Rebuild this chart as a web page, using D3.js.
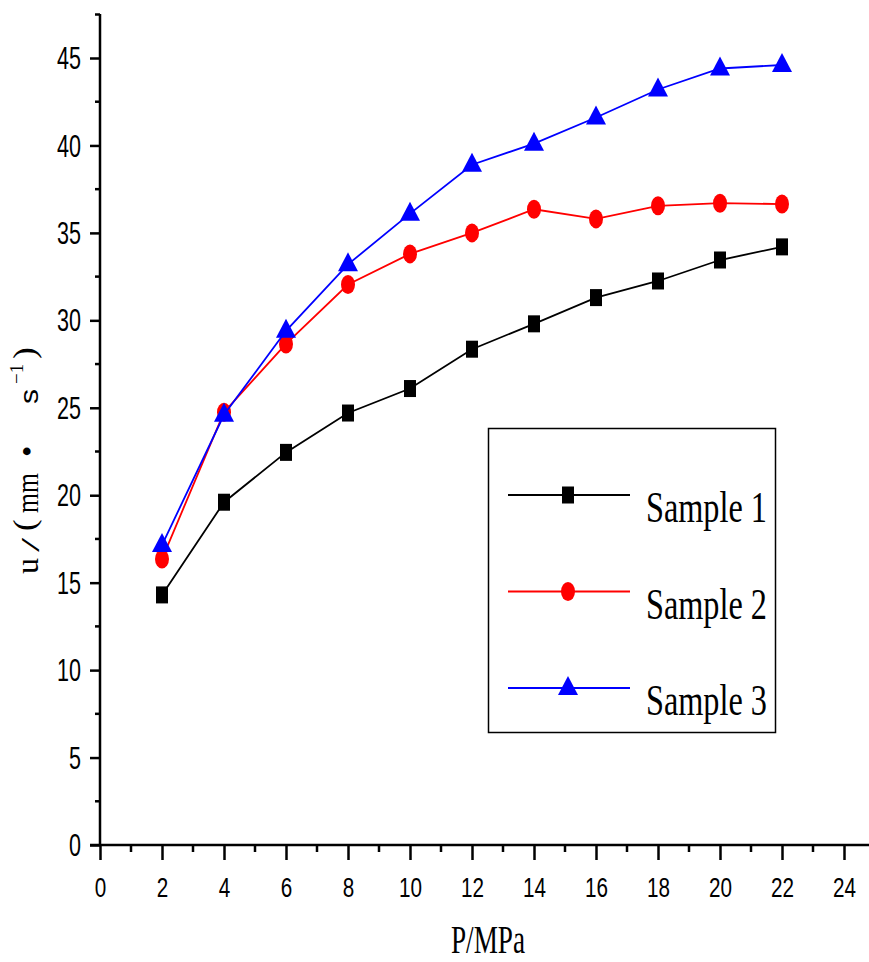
<!DOCTYPE html>
<html>
<head>
<meta charset="utf-8">
<script src="https://cdn.jsdelivr.net/npm/d3@7"></script>
<style>
  body { margin: 0; background: #fff; }
  svg { display: block; }
</style>
</head>
<body>
<svg id="chart" width="869" height="962"></svg>
<script>
// pressure values (MPa)
const pressure = [2, 4, 6, 8, 10, 12, 14, 16, 18, 20, 22];

// burning rate readings per sample
const sample1 = [14.3, 19.6, 22.45, 24.7, 26.1, 28.35, 29.8, 31.3, 32.25, 33.45, 34.2];
const sample2 = [16.35, 24.75, 28.65, 32.05, 33.8, 35.0, 36.35, 35.8, 36.55, 36.7, 36.65];
const sample3 = [17.15, 24.6, 29.4, 33.2, 36.1, 38.9, 40.1, 41.6, 43.2, 44.4, 44.6];

const seriesNames = ["Sample 1", "Sample 2", "Sample 3"];
const seriesColors = ["#000000", "#ff0000", "#0000ff"];
const seriesShapes = ["square", "circle", "triangle"];

const xTicks = [0, 2, 4, 6, 8, 10, 12, 14, 16, 18, 20, 22, 24];
const yTicks = [0, 5, 10, 15, 20, 25, 30, 35, 40, 45];

let svg = d3.select("#chart");

let canvas = {"left": 100, "bottom": 845, "xEnd": 844, "yTop": 58};

let xScale = d3.scaleLinear().domain([0, 24]).range([canvas.left, canvas.xEnd]);
let yScale = d3.scaleLinear().domain([0, 45]).range([canvas.bottom, canvas.yTop]);

const tickFont = "'Liberation Sans', Arial, sans-serif";
const serifFont = "'Liberation Serif', 'DejaVu Serif', serif";

// axes lines
svg.append("line")
  .attr("x1", canvas.left).attr("x2", canvas.left)
  .attr("y1", 14).attr("y2", canvas.bottom)
  .attr("stroke", "black").attr("stroke-width", 2.5);
svg.append("line")
  .attr("x1", canvas.left - 10).attr("x2", 869)
  .attr("y1", canvas.bottom).attr("y2", canvas.bottom)
  .attr("stroke", "black").attr("stroke-width", 2.5);
// top cap on y axis
svg.append("line")
  .attr("x1", canvas.left - 5).attr("x2", canvas.left)
  .attr("y1", 14.5).attr("y2", 14.5)
  .attr("stroke", "black").attr("stroke-width", 2.5);

// y axis
let yAxis = d3.axisLeft(yScale).tickValues(yTicks).tickSize(10).tickPadding(9);
let gy = svg.append("g")
  .attr("transform", `translate(${canvas.left}, 0)`)
  .call(yAxis);
gy.select(".domain").remove();
gy.selectAll(".tick line").attr("stroke-width", 2.5);
gy.selectAll(".tick text")
  .attr("font-family", tickFont)
  .attr("font-size", 32)
  .attr("fill", "black")
  .attr("dy", "0.33em")
  .attr("textLength", d => String(d).length * 12)
  .attr("lengthAdjust", "spacingAndGlyphs");

let yMinor = d3.range(2.5, 46, 5);
svg.append("g").selectAll("line")
  .data(yMinor)
  .join("line")
  .attr("x1", canvas.left - 5).attr("x2", canvas.left)
  .attr("y1", d => yScale(d)).attr("y2", d => yScale(d))
  .attr("stroke", "black").attr("stroke-width", 2.5);

// x axis
let xAxis = d3.axisBottom(xScale).tickValues(xTicks).tickSize(15).tickPadding(17);
let gx = svg.append("g")
  .attr("transform", `translate(0, ${canvas.bottom})`)
  .call(xAxis);
gx.select(".domain").remove();
gx.selectAll(".tick line").attr("stroke-width", 2.5);
gx.selectAll(".tick text")
  .attr("font-family", tickFont)
  .attr("font-size", 28)
  .attr("fill", "black")
  .attr("textLength", d => String(d).length * 11.5)
  .attr("lengthAdjust", "spacingAndGlyphs");

let xMinor = d3.range(1, 24, 2);
svg.append("g").selectAll("line")
  .data(xMinor)
  .join("line")
  .attr("x1", d => xScale(d)).attr("x2", d => xScale(d))
  .attr("y1", canvas.bottom).attr("y2", canvas.bottom + 7)
  .attr("stroke", "black").attr("stroke-width", 2.5);

// x axis title
svg.append("text")
  .attr("x", 451).attr("y", 953)
  .attr("font-family", serifFont)
  .attr("font-size", 40)
  .attr("textLength", 74)
  .attr("lengthAdjust", "spacingAndGlyphs")
  .text("P/MPa");

// y axis title, set glyph by glyph (rotated, wide spacing like the original)
const yTitleParts = [
  {text: "u",  y: 574, bx: 38, size: 32, sx: 1,   sy: 1,    font: serifFont},
  {text: "/",  y: 552, bx: 39, size: 32, sx: 1.6, sy: 0.8,  font: serifFont},
  {text: "(",  y: 531, bx: 35, size: 32, sx: 1.1, sy: 1,    font: serifFont},
  {text: "m",  y: 513, bx: 38, size: 32, sx: 0.8, sy: 1,    font: serifFont},
  {text: "m",  y: 493, bx: 38, size: 32, sx: 0.8, sy: 1,    font: serifFont},
  {text: "•",  y: 457, bx: 38, size: 32, sx: 1,   sy: 1,    font: serifFont},
  {text: "s",  y: 404, bx: 38, size: 25, sx: 1.2, sy: 1,    font: tickFont},
  {text: "−1", y: 384, bx: 23, size: 19, sx: 1,   sy: 1,    font: serifFont},
  {text: ")",  y: 359, bx: 35, size: 32, sx: 1.1, sy: 1,    font: serifFont}
];
let yTitle = svg.append("g");
yTitleParts.forEach(p => {
  yTitle.append("text")
    .attr("transform", `translate(${p.bx}, ${p.y}) rotate(-90) scale(${p.sx}, ${p.sy})`)
    .attr("font-family", p.font)
    .attr("font-size", p.size)
    .text(p.text);
});

// markers
function drawMarker(g, shape, color, cx, cy) {
  if (shape === "square") {
    g.append("rect")
      .attr("x", cx - 6).attr("y", cy - 8.5)
      .attr("width", 12).attr("height", 17)
      .attr("fill", color);
  } else if (shape === "circle") {
    g.append("ellipse")
      .attr("cx", cx).attr("cy", cy)
      .attr("rx", 7).attr("ry", 9.5)
      .attr("fill", color);
  } else {
    g.append("path")
      .attr("d", `M${cx},${cy - 12}L${cx + 10},${cy + 7}L${cx - 10},${cy + 7}Z`)
      .attr("fill", color);
  }
}

const allSeries = [sample1, sample2, sample3];
let line = d3.line().x(d => xScale(d[0])).y(d => yScale(d[1]));

allSeries.forEach((values, i) => {
  let pts = pressure.map((p, j) => [p, values[j]]);
  let g = svg.append("g");
  g.append("path")
    .datum(pts)
    .attr("d", line)
    .attr("fill", "none")
    .attr("stroke", seriesColors[i])
    .attr("stroke-width", 1.8);
  pts.forEach(d => drawMarker(g, seriesShapes[i], seriesColors[i], xScale(d[0]), yScale(d[1])));
});

// legend
let legend = svg.append("g");
legend.append("rect")
  .attr("x", 488.5).attr("y", 428.5)
  .attr("width", 287).attr("height", 304)
  .attr("fill", "white")
  .attr("stroke", "black").attr("stroke-width", 1.5);

seriesNames.forEach((name, i) => {
  let ly = 495 + i * 96.5;
  legend.append("line")
    .attr("x1", 508).attr("x2", 630)
    .attr("y1", ly).attr("y2", ly)
    .attr("stroke", seriesColors[i]).attr("stroke-width", 1.8);
  drawMarker(legend, seriesShapes[i], seriesColors[i], 568, ly);
  legend.append("text")
    .attr("x", 646).attr("y", ly + 27)
    .attr("font-family", serifFont)
    .attr("font-size", 44)
    .attr("textLength", 121)
    .attr("lengthAdjust", "spacingAndGlyphs")
    .text(name);
});
</script>
</body>
</html>
